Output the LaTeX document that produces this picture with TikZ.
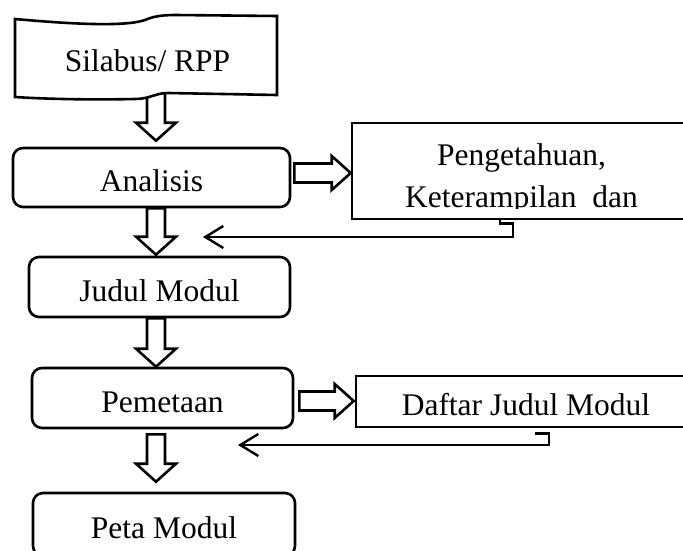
\documentclass[tikz,border=0pt]{standalone}
\usepackage{fontspec}
\setmainfont{Liberation Serif}
\usetikzlibrary{arrows.meta,calc,backgrounds}

\tikzset{
  rbox/.style={draw, line width=2.6pt, rounded corners=10pt, inner sep=0pt, text height=28pt, text depth=0pt},
  sbox/.style={draw, line width=2.6pt, inner sep=0pt, text height=28pt, text depth=0pt},
  plaintext/.style={inner sep=0pt},
  blockarrow/.style={draw, fill=white, line width=2.6pt, line join=miter},
  backarrow/.style={line width=2.4pt, -{Straight Barb[length=18pt,width=22pt,line width=2.4pt]}}
}

% hollow block arrows, start point and tip
\newcommand{\blockdown}[2]{%
  \path[blockarrow] let \p1=#1, \p2=#2 in
    (\x1-9pt,\y1) -- (\x1-9pt,\y2+18pt) -- (\x1-20pt,\y2+18pt) -- (\x1,\y2)
    -- (\x1+20pt,\y2+18pt) -- (\x1+9pt,\y2+18pt) -- (\x1+9pt,\y1) -- cycle;}
\newcommand{\blockright}[2]{%
  \path[blockarrow] let \p1=#1, \p2=#2 in
    (\x1,\y1+9.5pt) -- (\x2-19pt,\y1+9.5pt) -- (\x2-19pt,\y1+17pt) -- (\x2,\y1)
    -- (\x2-19pt,\y1-17pt) -- (\x2-19pt,\y1-9.5pt) -- (\x1,\y1-9.5pt) -- cycle;}

\begin{document}
\begin{tikzpicture}[x=1pt, y=-1pt, font=\fontsize{31.5}{42}\selectfont]
\clip (0,0) rectangle (683,551);

% main column
\node[rbox, minimum width=277pt, minimum height=59pt] (ana) at (151.5,177.5) {Analisis};
\node[rbox, minimum width=261pt, minimum height=60pt] (jud) at (159.5,287) {Judul Modul};
\node[rbox, minimum width=261pt, minimum height=60pt] (pem) at (162.5,398) {Pemetaan};
\node[rbox, minimum width=262pt, minimum height=63pt] (peta) at (164,524.5) {Peta Modul};

% side boxes
\node[sbox, minimum width=339pt, minimum height=96pt] (pengbox) at (521.5,171) {};
\begin{scope}
  \clip (352,123) rectangle (700,208);
  \node[plaintext, align=center] (pengtext) at (521.5,178.7) {Pengetahuan,\\Keterampilan\ \ dan};
\end{scope}
\node[sbox, minimum width=340pt, minimum height=51pt] (dft) at (526,401.5) {Daftar Judul Modul};

\coordinate (tapebot) at (156,90);
\begin{scope}[on background layer]
  \blockdown{(tapebot)}{([yshift=6pt]ana.north)}
  \blockdown{([xshift=4.5pt]ana.south)}{([yshift=1pt]jud.north)}
  \blockdown{([xshift=-3.5pt]jud.south)}{(pem.north)}
  \blockdown{([xshift=-6.5pt,yshift=-5pt]pem.south)}{([yshift=10pt]peta.north)}
  \blockright{([xshift=3pt,yshift=4.5pt]ana.east)}{(pengbox.west)}
  \blockright{([xshift=5pt,yshift=-3pt]pem.east)}{([xshift=-1pt]dft.west)}
\end{scope}

% tape on top
\path[draw, fill=white, line width=2.6pt]
  (15,19) .. controls (70,24) and (125,27) .. (145,20)
  .. controls (152,17) and (160,15) .. (175,15) -- (277,16) -- (277,95)
  -- (168,93) .. controls (155,93) and (150,99) .. (135,99)
  .. controls (90,100) and (45,99) .. (15,97) -- cycle;
\node[plaintext, anchor=base] (silabus) at (147.5,71) {Silabus/ RPP};

% feedback
\coordinate (fbone) at (203,237);
\coordinate (fbtwo) at (238,445);
\draw[backarrow] ([xshift=-21.5pt]pengbox.south) -- ++(0,3) -- ++(13,0) |- (fbone);
\draw[backarrow] ([xshift=9pt,yshift=-5pt]dft.south) -- ++(14,0) |- (fbtwo);
\end{tikzpicture}
\end{document}
